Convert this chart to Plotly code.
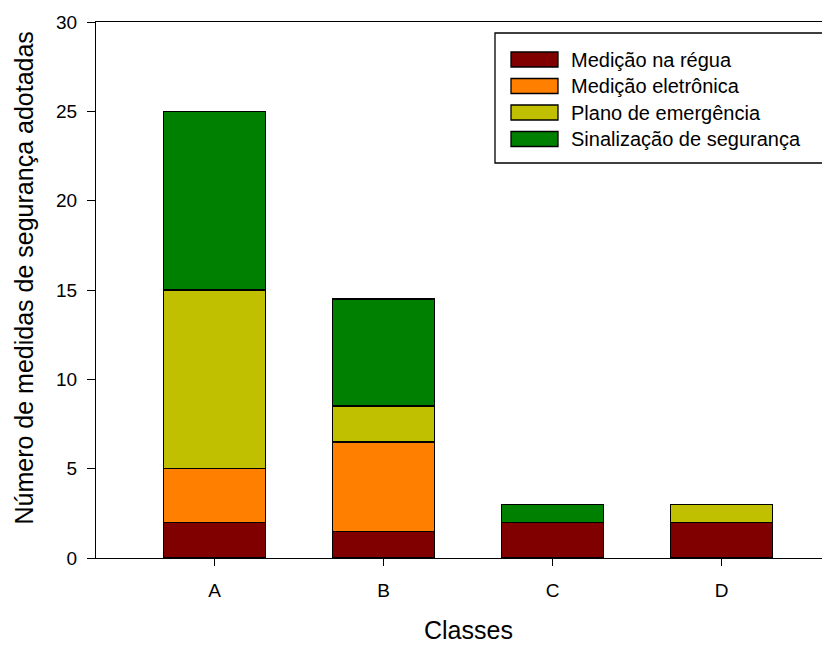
import plotly.graph_objects as go

categories = ["A", "B", "C", "D"]
series_names = ["Medição na régua", "Medição eletrônica", "Plano de emergência", "Sinalização de segurança"]
regua = [2, 1.5, 2, 2]
eletronica = [3, 5, 0, 0]
emergencia = [10, 2, 0, 1]
sinalizacao = [10, 6, 1, 0]
colors = ["#800000", "#FF8000", "#C0C000", "#008000"]
x_title = "Classes"
y_title = "Número de medidas de segurança adotadas"

series_values = [regua, eletronica, emergencia, sinalizacao]
xpos = list(range(len(categories)))

FONT = "Liberation Sans, Arial, sans-serif"

fig = go.Figure()
for name, vals, col in zip(series_names, series_values, colors):
    fig.add_trace(go.Bar(
        x=xpos, y=vals, name=name, width=0.6,
        marker=dict(color=col, line=dict(color="black", width=1.3)),
        showlegend=False,
    ))

# positions in window pixels converted to plot-area paper coordinates
L, T, W, H = 96, 22, 734, 536
def px(x):
    return (x - L) / W
def py(y):
    return (T + H - y) / H

shapes = [dict(type="rect", xref="paper", yref="paper",
               x0=px(495), x1=px(823), y0=py(163), y1=py(33),
               line=dict(color="black", width=1.3), fillcolor="white", layer="above")]
annotations = []
row_y = [59.5, 86, 112.5, 139]
for name, col, ry in zip(series_names, colors, row_y):
    shapes.append(dict(type="rect", xref="paper", yref="paper",
                       x0=px(511), x1=px(558), y0=py(ry + 7.5), y1=py(ry - 7.5),
                       line=dict(color="black", width=1.3), fillcolor=col, layer="above"))
    annotations.append(dict(xref="paper", yref="paper", x=px(569), y=py(ry),
                            xanchor="left", yanchor="middle", showarrow=False,
                            text=name, font=dict(family=FONT, size=20, color="black")))

# axis titles
annotations.append(dict(xref="paper", yref="paper", x=px(23), y=py(278.5),
                        xanchor="center", yanchor="middle", showarrow=False, textangle=-90,
                        text=y_title, font=dict(family=FONT, size=25, color="black")))
annotations.append(dict(xref="paper", yref="paper", x=px(468), y=py(630),
                        xanchor="center", yanchor="middle", showarrow=False,
                        text=x_title, font=dict(family=FONT, size=25, color="black")))

# the page body adds an 8px margin, so the figure is 8px smaller and shifted
fig.update_layout(
    barmode="stack",
    width=822, height=637,
    margin=dict(l=88, r=0, t=14, b=87),
    plot_bgcolor="white", paper_bgcolor="white",
    font=dict(family=FONT, color="black"),
    shapes=shapes, annotations=annotations,
    xaxis=dict(
        tickmode="array", tickvals=xpos, ticktext=categories,
        range=[-0.701, 3.642], automargin=False,
        showline=True, linecolor="black", linewidth=1.3, mirror=True,
        ticks="outside", ticklen=7, tickcolor="black", tickwidth=1.3,
        tickfont=dict(size=19, family=FONT), ticklabelstandoff=8,
        showgrid=False, zeroline=False,
    ),
    yaxis=dict(
        range=[0, 30], tickvals=[0, 5, 10, 15, 20, 25, 30], automargin=False,
        showline=True, linecolor="black", linewidth=1.3,
        ticks="outside", ticklen=8, tickcolor="black", tickwidth=1.3,
        tickfont=dict(size=19, family=FONT), ticklabelstandoff=6,
        showgrid=False, zeroline=False,
    ),
)

fig.write_html("out.html")
